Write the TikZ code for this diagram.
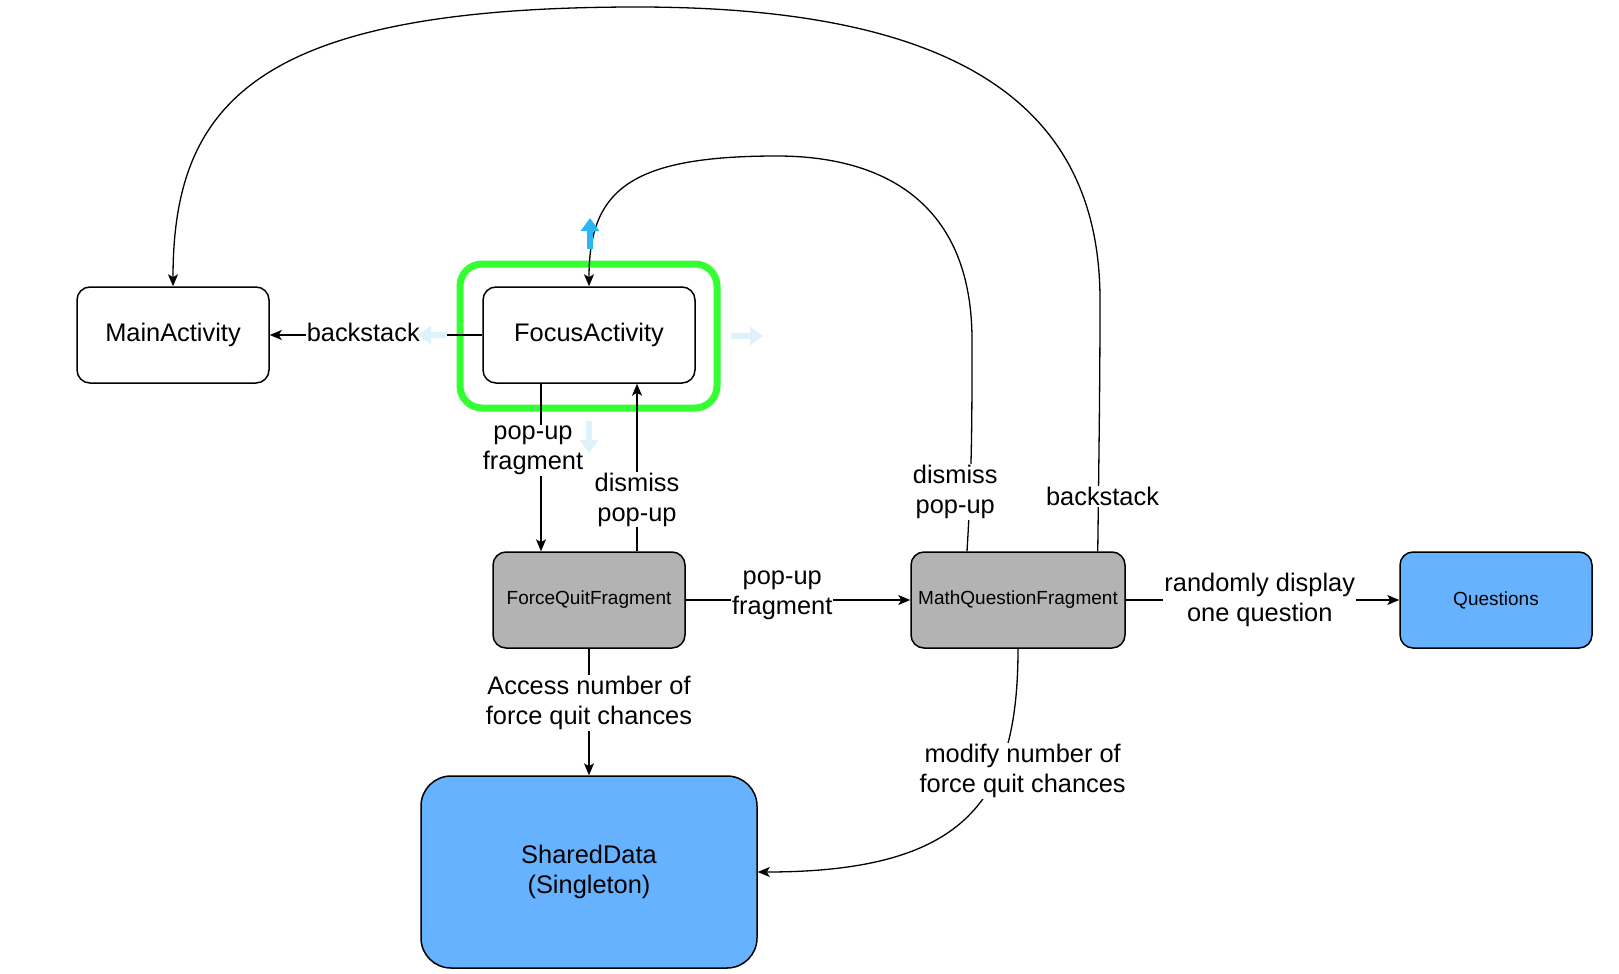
\documentclass[tikz,border=0pt]{standalone}
\usepackage{fontspec}
\setmainfont{Liberation Sans}
\usetikzlibrary{arrows.meta,calc}
\definecolor{boxblue}{RGB}{102,178,255}
\definecolor{boxgray}{RGB}{179,179,179}
\definecolor{hlgreen}{RGB}{51,255,51}
\definecolor{hoverblue}{RGB}{41,182,242}
\definecolor{hoverpale}{RGB}{222,242,252}
\tikzset{
  box/.style={draw,rounded corners=13pt,line width=1.5pt,minimum width=192pt,minimum height=96pt,
    inner sep=0pt,align=center,font=\fontsize{25.4}{30}\selectfont},
  frag/.style={box,fill=boxgray,font=\fontsize{19}{22}\selectfont},
  storebox/.style={box,fill=boxblue},
  link/.style={line width=1.3pt,-{Stealth[length=12pt,width=10pt,inset=3pt]}},
  lbl/.style={fill=white,inner sep=1pt,align=center,font=\fontsize{25.4}{30}\selectfont},
  hover/.style={line width=6pt,-{Triangle[length=13pt,width=18pt]}},
}

\begin{document}
\begin{tikzpicture}[x=1pt,y=-1pt]
  \useasboundingbox (0,0) rectangle (1619,974);
  % highlight round FocusActivity
  \draw[hlgreen,line width=7pt,rounded corners=22pt] (460,264) rectangle (717,408);

  \draw (173,335) node[box] (main) {MainActivity};
  \draw (589,335) node[box,minimum width=212pt] (focus) {FocusActivity};
  \draw (589,600) node[frag] (forcequit) {ForceQuitFragment};
  \draw (1018,600) node[frag,minimum width=214pt] (mathq) {MathQuestionFragment};
  \draw (1496,600) node[storebox,font=\fontsize{19}{22}\selectfont] (questions) {Questions};
  \draw (589,872) node[storebox,minimum width=336pt,minimum height=192pt,rounded corners=30pt] (shared) {SharedData\\(Singleton)};

  \draw[link] (focus.west) -- node[lbl,pos=0.56,yshift=3pt]{backstack} (main.east);
  \draw[link] ([xshift=-48pt]focus.south) -- node[lbl,pos=0.37,xshift=-8pt,yshift=-5pt]{pop-up\\fragment} ([xshift=-48pt]forcequit.north);
  \draw[link] ([xshift=48pt]forcequit.north) -- node[lbl,pos=0.32,yshift=-2pt]{dismiss\\pop-up} ([xshift=48pt]focus.south);
  \draw[link] (forcequit.east) -- node[lbl,pos=0.43,yshift=5pt]{pop-up\\fragment} (mathq.west);
  \draw[link] (mathq.east) -- node[lbl,pos=0.49]{randomly display\\one question} (questions.west);
  \draw[link] (forcequit.south) -- node[lbl,pos=0.42,yshift=-1pt]{Access number of\\force quit chances} (shared.north);
  \draw[link] (mathq.south) .. controls +(0,150) and +(210,0) .. (shared.east)
    node[lbl,pos=0.33,xshift=25pt,yshift=1pt]{modify number of\\force quit chances};

  \draw[link] ([xshift=-51pt]mathq.north) .. controls (972,470) and (972,420) .. (972,340)
    node[lbl,pos=0.29,xshift=-15pt,yshift=-5pt]{dismiss\\pop-up}
    .. controls (972,200) and (880,156) .. (777,156)
    .. controls (630,156) and (589,190) .. (focus.north);
  \draw[link] ([xshift=-28pt]mathq.north east) .. controls (1099,450) and (1100,380) .. (1100,300)
    node[lbl,pos=0.22,xshift=4pt,yshift=-8pt]{backstack}
    .. controls (1100,100) and (950,7) .. (637,7)
    .. controls (260,7) and (173,100) .. (main.north);

  \draw[hover,hoverblue] (590,249) -- (590,218);
  \draw[hover,hoverpale] (447,335) -- (418,335);
  \draw[hover,hoverpale] (731,336) -- (763,336);
  \draw[hover,hoverpale] (589,421) -- (589,453);
\end{tikzpicture}
\end{document}
